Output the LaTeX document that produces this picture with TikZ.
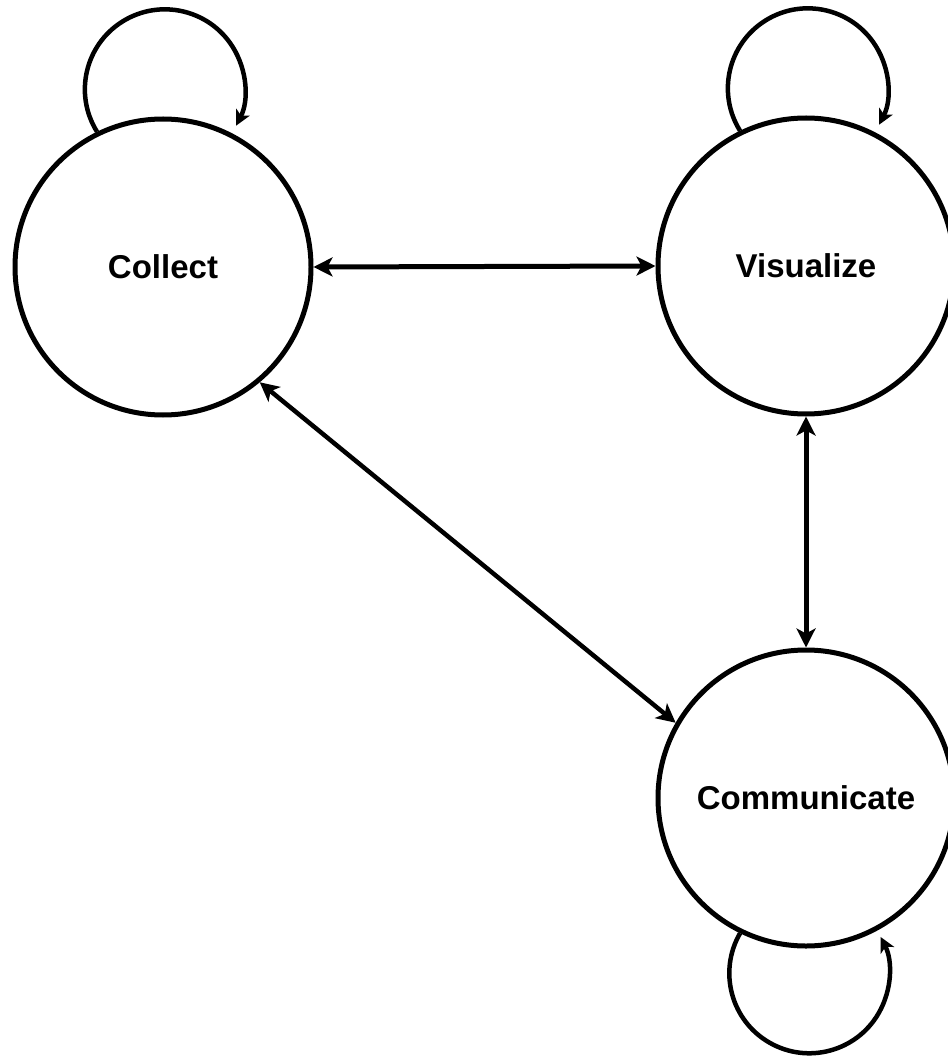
\documentclass[tikz,border=0pt]{standalone}
\usepackage{fontspec}
\setmainfont{Liberation Sans}
\usetikzlibrary{arrows.meta}
\begin{document}
\begin{tikzpicture}[x=1pt,y=1pt,
  state/.style={circle,draw,line width=5pt,minimum size=296pt,inner sep=0pt,font=\fontsize{33}{38}\selectfont\bfseries},
  link/.style={line width=5pt,{Stealth[length=19pt,width=19pt,inset=5pt]}-{Stealth[length=19pt,width=19pt,inset=5pt]}},
  selfloop/.style={line width=4.5pt,-{Stealth[length=15pt,width=15pt,inset=4pt]}}]
\useasboundingbox (0,0) rectangle (947,-1056);
\node[state] (Collect) at (163,-267) {Collect};
\node[state] (Visualize) at (806,-266) {Visualize};
\node[state] (Communicate) at (806,-798) {Communicate};
\draw[link] (Collect.east) -- (Visualize.west);
\draw[link] (Visualize.south) -- (Communicate.north);
\draw[link,line width=4.5pt] (Collect.-50) -- (Communicate.150);
\draw[selfloop] (Collect.116) arc[start angle=212,end angle=-27,radius=80];
\draw[selfloop] (Visualize.116) arc[start angle=212,end angle=-27,radius=80];
\draw[selfloop] (Communicate.-116) arc[start angle=150,end angle=387,radius=80];
\end{tikzpicture}
\end{document}
